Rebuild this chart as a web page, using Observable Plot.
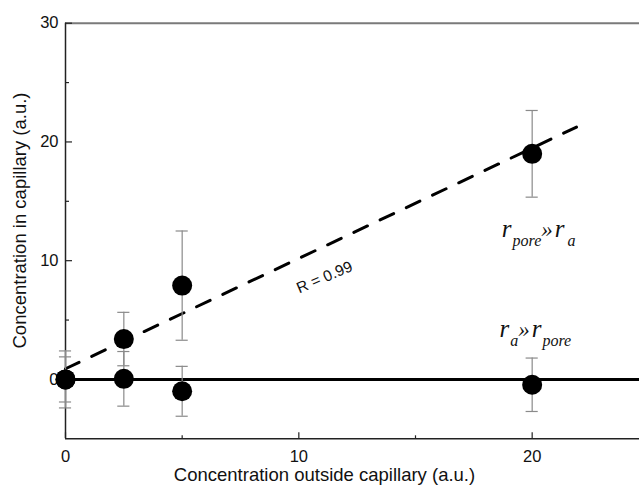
<!DOCTYPE html>
<html><head><meta charset="utf-8">
<script src="https://cdn.jsdelivr.net/npm/d3@7"></script>
<script src="https://cdn.jsdelivr.net/npm/@observablehq/plot@0.6"></script>
<style>body{margin:0;background:#fff;overflow:hidden} svg{display:block}</style>
</head><body><div id="chart"></div>
<script>
// ---- data ----
const xVals      = [0, 2.5, 5, 20];
const poreLarge  = [0, 3.4, 7.9, 19.0];   // r_pore >> r_a
const errLarge   = [2.4, 2.25, 4.6, 3.65];
const poreSmall  = [0, 0.05, -1.0, -0.45]; // r_a >> r_pore
const errSmall   = [1.9, 2.3, 2.1, 2.25];
const fitX = [0, 21.9];
const fitY = [0.9, 21.25];
const xMajor = [0, 10, 20], xMinor = [5, 15];
const yMajor = [0, 10, 20, 30], yMinor = [5, 15, 25];
const xTitle = "Concentration outside capillary (a.u.)";
const yTitle = "Concentration in capillary (a.u.)";
const rLabel = {x: 11.1, y: 8.6, text: "R = 0.99"};
const annots = [
  {x: 18.7, y: 12.0, parts: [["r","main"],["pore","sub"],["»","op"],["r","main"],["a","sub"]]},
  {x: 18.6, y: 3.55, parts: [["r","main"],["a","sub"],["»","op"],["r","main"],["pore","sub"]]}
];

// ---- layout ----
const W = 639, H = 491, mL = 65, mT = 22.7, mB = 52.7;
const frameW = W - mL, frameH = H - mT - mB;
const capHalf = 0.26;
const rows = (ys, es) => xVals.map((x, i) => ({x, y: ys[i], e: es[i]}));
const all = [...rows(poreLarge, errLarge), ...rows(poreSmall, errSmall)];
const fit = fitX.map((x, i) => ({x, y: fitY[i]}));
const errStroke = "#8a8a8a";

const chart = Plot.plot({
  width: W, height: H,
  marginLeft: mL, marginRight: 0, marginTop: mT, marginBottom: mB,
  style: {fontFamily: "'Liberation Sans', Arial, sans-serif", background: "#fff", color: "#111", overflow: "visible"},
  x: {domain: [0, 24.6], axis: null},
  y: {domain: [-5, 30], axis: null},
  marks: [
    Plot.ruleY([30], {stroke: "#7a7a7a", strokeWidth: 2}),
    Plot.ruleX([0], {stroke: "#222", strokeWidth: 1.5}),
    Plot.ruleY([-5], {stroke: "#222", strokeWidth: 1.5}),
    Plot.tickX(xMajor, {x: d => d, insetTop: frameH - 6, stroke: "#222", strokeWidth: 1.2}),
    Plot.tickX(xMinor, {x: d => d, insetTop: frameH - 3, stroke: "#222", strokeWidth: 1.2}),
    Plot.tickY(yMajor, {y: d => d, insetRight: frameW - 7, stroke: "#222", strokeWidth: 1.2}),
    Plot.tickY(yMinor, {y: d => d, insetRight: frameW - 4, stroke: "#222", strokeWidth: 1.2}),
    Plot.text(xMajor, {x: d => d, frameAnchor: "bottom", text: d => String(d), lineAnchor: "top", textAnchor: "middle", dy: 11, fontSize: 16.5, fill: "#111"}),
    Plot.text(yMajor, {y: d => d, frameAnchor: "left", text: d => String(d), textAnchor: "end", lineAnchor: "middle", dx: -7, fontSize: 16.5, fill: "#111"}),
    Plot.text([xTitle], {frameAnchor: "bottom", text: d => d, textAnchor: "middle", dx: -28, dy: 42, fontSize: 18.5, fill: "#111"}),
    Plot.text([yTitle], {frameAnchor: "left", text: d => d, textAnchor: "middle", rotate: -90, dx: -45, dy: -10.5, fontSize: 18.5, fill: "#111"}),
    Plot.ruleY([0], {stroke: "#000", strokeWidth: 3}),
    Plot.line(fit, {x: "x", y: "y", stroke: "#000", strokeWidth: 3, strokeDasharray: "15,14"}),
    Plot.ruleX(all, {x: "x", y1: d => d.y - d.e, y2: d => d.y + d.e, stroke: errStroke, strokeWidth: 1.2}),
    Plot.ruleY(all, {y: d => d.y + d.e, x1: d => d.x - capHalf, x2: d => d.x + capHalf, stroke: errStroke, strokeWidth: 1.2}),
    Plot.ruleY(all, {y: d => d.y - d.e, x1: d => d.x - capHalf, x2: d => d.x + capHalf, stroke: errStroke, strokeWidth: 1.2}),
    Plot.dot(all, {x: "x", y: "y", r: 10, fill: "#000", stroke: "none"}),
    Plot.text([rLabel], {x: "x", y: "y", text: "text", rotate: -23, fontSize: 15.5, fill: "#111"}),
    Plot.text(annots, {x: "x", y: "y", text: d => d.parts.map(p => p[0]).join(""), textAnchor: "start", lineAnchor: "bottom",
      fontFamily: "'Liberation Serif', 'Times New Roman', serif", fontStyle: "italic", fontSize: 23, fill: "#111"})
  ]
});
document.getElementById("chart").appendChild(chart);

// rich text for the r_pore / r_a annotations (subscripts as tspans)
const NS = "http://www.w3.org/2000/svg";
const style = {main: {size: 25, shift: 0, dx: 0, weight: "normal"}, sub: {size: 16, shift: 9, dx: 1, weight: "normal"}, op: {size: 23, shift: 0, dx: 0, weight: "normal"}};
chart.querySelectorAll("text").forEach(t => {
  const a = annots.find(a => a.parts.map(p => p[0]).join("") === t.textContent);
  if (!a) return;
  t.textContent = "";
  let cur = 0;
  a.parts.forEach(([s, role], i) => {
    const st = style[role];
    const ts = document.createElementNS(NS, "tspan");
    ts.setAttribute("font-size", st.size);
    ts.setAttribute("font-weight", st.weight);
    ts.setAttribute("dy", st.shift - cur);
    let dx = st.dx;
    if (role === "main" && i > 0) dx = 2;
    if (role === "sub" && i === 4 && s === "a") dx = 3;
    ts.setAttribute("dx", dx);
    cur = st.shift;
    ts.textContent = s;
    t.appendChild(ts);
  });
});
</script>
</body></html>
